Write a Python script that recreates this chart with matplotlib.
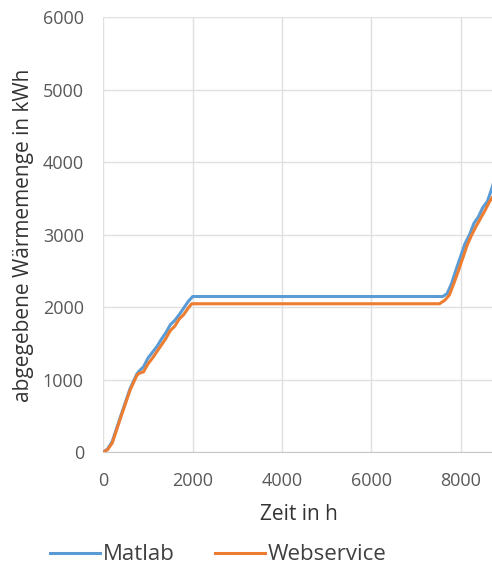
import matplotlib
matplotlib.use("Agg")
import matplotlib.pyplot as plt

plt.rcParams['font.family'] = ['Open Sans', 'DejaVu Sans']

matlab_h = [0, 100, 200, 400, 600, 750, 800, 900, 1000, 1100, 1200, 1300, 1400, 1500,
            1600, 1700, 1800, 1900, 2000, 7600, 7700, 7800, 7900, 8000, 8100, 8200,
            8300, 8400, 8500, 8600, 8700, 8760]
matlab_kwh = [0, 50, 150, 520, 880, 1080, 1120, 1180, 1300, 1380, 1460, 1560, 1650, 1760,
              1820, 1900, 1990, 2080, 2150, 2150, 2190, 2330, 2520, 2700, 2880, 3000,
              3160, 3250, 3380, 3460, 3640, 3760]

web_h = [0, 100, 200, 400, 600, 750, 800, 900, 1000, 1100, 1200, 1300, 1400, 1500,
         1600, 1700, 1800, 1900, 1980, 7530, 7650, 7750, 7850, 7950, 8050, 8150,
         8250, 8350, 8450, 8550, 8650, 8760]
web_kwh = [0, 40, 130, 500, 860, 1060, 1090, 1110, 1220, 1300, 1390, 1480, 1570, 1680,
           1740, 1840, 1900, 1990, 2050, 2050, 2100, 2170, 2330, 2500, 2680, 2860,
           3000, 3120, 3230, 3340, 3460, 3560]

x_ticks = [0, 2000, 4000, 6000, 8000]
y_ticks = [0, 1000, 2000, 3000, 4000, 5000, 6000]

W, H = 492, 564
fig = plt.figure(figsize=(W / 100, H / 100), dpi=100)
ax = fig.add_axes([0.21, 0.198, 0.795, 0.771])

ax.plot(matlab_h, matlab_kwh, color='#5B9BD5', lw=2.2, label='Matlab', zorder=3)
ax.plot(web_h, web_kwh, color='#ED7D31', lw=2.2, label='Webservice', zorder=4)

ax.set_xlim(0, 8760)
ax.set_ylim(0, 6000)
ax.set_xticks(x_ticks)
ax.set_yticks(y_ticks)
ax.set_xticklabels([str(v) for v in x_ticks])
ax.set_yticklabels([str(v) for v in y_ticks])
ax.grid(True, color='#E0E0E0', lw=1)
ax.set_axisbelow(True)
for s in ['top', 'right', 'left']:
    ax.spines[s].set_visible(False)
ax.spines['bottom'].set_color('#C8C8C8')
ax.tick_params(axis='both', length=0, colors='#595959', labelsize=13)
ax.tick_params(axis='y', pad=14)
ax.tick_params(axis='x', pad=14.5)

ax.set_xlabel('Zeit in h', fontsize=15, color='#333333')
ax.set_ylabel('abgegebene Wärmemenge in kWh', fontsize=15, color='#333333')
ax.xaxis.set_label_coords(0.5, -0.119)
ax.yaxis.set_label_coords(-0.177, 0.5)

fig.legend(loc='center left', bbox_to_anchor=(50 / W, 1 - 555 / H), ncol=2, frameon=False,
           fontsize=16, handlelength=2.25, handletextpad=0.12, columnspacing=1.8,
           borderpad=0, borderaxespad=0, labelcolor='#404040')

fig.savefig('out.png', dpi=100)
